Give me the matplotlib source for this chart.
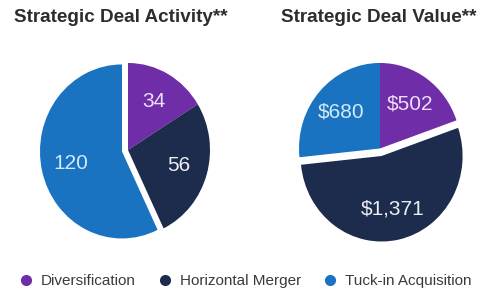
import matplotlib

matplotlib.use("Agg")
import matplotlib.pyplot as plt
from matplotlib.lines import Line2D

plt.rcParams["font.family"] = ["Liberation Sans", "DejaVu Sans"]

CATEGORIES = ["Diversification", "Horizontal Merger", "Tuck-in Acquisition"]
COLORS = ["#6f2da8", "#1d2c4c", "#1a73c0"]
LABEL_COLORS = ["#ecdff8", "#eceff2", "#d3eafb"]

ACTIVITY_TITLE = "Strategic Deal Activity**"
ACTIVITY_VALUES = [34, 56, 120]
ACTIVITY_EXPLODE = [0, 0, 0.075]

VALUE_TITLE = "Strategic Deal Value**"
VALUE_VALUES = [502, 1371, 680]
VALUE_EXPLODE = [0, 0.09, 0]


def draw_pie(ax, values, explode, fmt):
    total = sum(values)
    wedges, texts, autotexts = ax.pie(
        values,
        colors=COLORS,
        explode=explode,
        startangle=90,
        counterclock=False,
        autopct=lambda p: fmt.format(p * total / 100),
        pctdistance=0.64,
        wedgeprops={"linewidth": 0},
        textprops={"fontsize": 15},
    )
    for t, c in zip(autotexts, LABEL_COLORS):
        t.set_color(c)
    # the reference is slightly stretched vertically
    ax.set_aspect("auto")
    ax.set_xlim(-1.25, 1.25)
    ax.set_ylim(-1.25, 1.25)


fig = plt.figure(figsize=(5, 3), dpi=100)

ax1 = fig.add_axes([0.051, 0.1375, 0.41, 0.725])
draw_pie(ax1, ACTIVITY_VALUES, ACTIVITY_EXPLODE, "{:.0f}")

ax2 = fig.add_axes([0.5575, 0.1487, 0.405, 0.7127])
draw_pie(ax2, VALUE_VALUES, VALUE_EXPLODE, "${:,.0f}")

fig.text(0.242, 0.942, ACTIVITY_TITLE, ha="center", va="center",
         fontsize=13.6, fontweight="bold", color="#2d2d2d")
fig.text(0.757, 0.942, VALUE_TITLE, ha="center", va="center",
         fontsize=13.6, fontweight="bold", color="#2d2d2d")

handles = [
    Line2D([], [], linestyle="none", marker="o", markersize=7,
           markerfacecolor=c, markeredgecolor=c)
    for c in COLORS
]
fig.legend(handles, CATEGORIES, loc="center", bbox_to_anchor=(0.492, 0.063),
           ncol=3, frameon=False, fontsize=11, handlelength=0.8,
           handletextpad=0.58, columnspacing=1.5, labelcolor="#3a3a3a")

fig.savefig("out.png", dpi=100)
